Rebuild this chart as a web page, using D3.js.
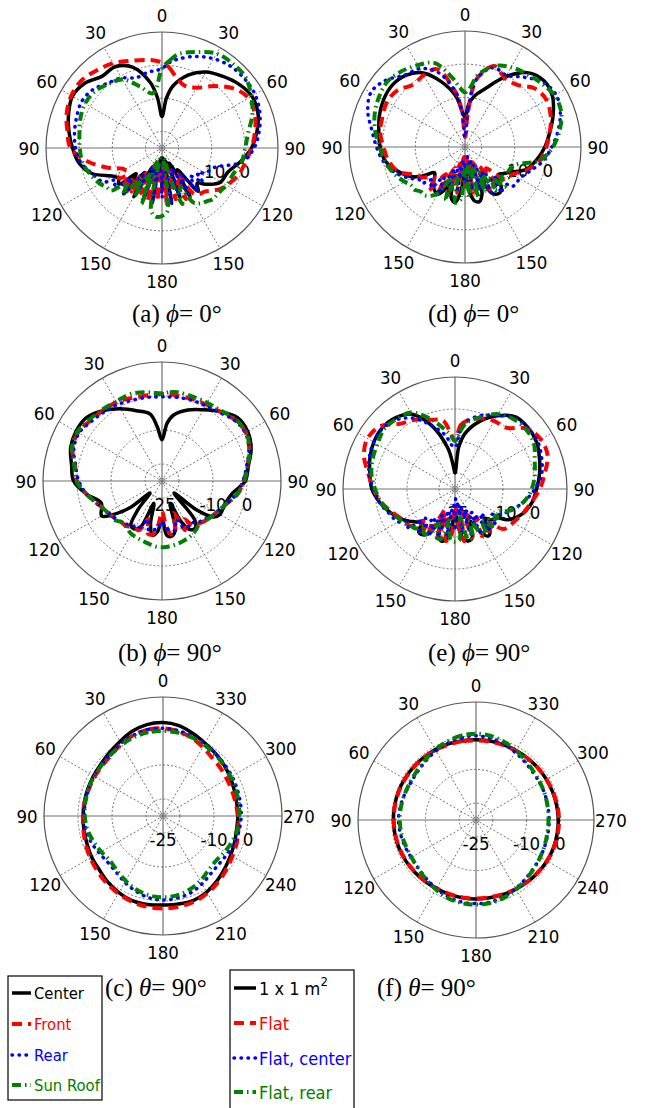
<!DOCTYPE html>
<meta charset="utf-8">
<script src="https://d3js.org/d3.v7.min.js"></script>
<style>
  body { margin: 0; background: #fff; }
</style>
<div id="my_dataviz"></div>
<script>

// angles of the elevation cuts (clockwise from top, deg)
var thetaDeg = [0,5,10,20,30,40,50,60,70,80,
                90,100,110,120,125,130,135,140,145,150,
                155,160,165,170,175,180,185,190,195,200,
                205,210,215,220,225,230,235,240,250,260,
                270,280,290,300,310,320,330,340,350,355];
// angles of the azimuth cuts (counter-clockwise from top, deg)
var phiDeg = [0,10,20,30,40,50,60,70,80,90,100,110,120,130,140,150,160,170,
              180,190,200,210,220,230,240,250,260,270,280,290,300,310,320,330,340,350];

var thetaTickLabels = ["0","30","60","90","120","150","180","150","120","90","60","30"];
var phiTickLabels = ["0","30","60","90","120","150","180","210","240","270","300","330"];
var radialTicks = [-25, -10, 0];
var ringValues = [-20, -10, 0];
var rDomain = [-25, 10];

// (a) phi = 0
var aCenter = [-15.5,-10,-6,-1.5,1.5,3.3,5.1,6.3,5.8,4.1,
  2,-1,-3.8,-4.5,-6,-8,-10,-8,-17,-8,
  -20,-9,-21,-8,-22,-12,-22,-8,-20,-9,
  -19,-8,-16,-7,-14,-8,-9,-8,-2.5,0.5,
  2,3.5,5,6.2,5.4,3.2,3.3,1,-5,-10];
var aFront = [0.8,-0.6,-2.7,-5,-4,-0.6,3,5.2,4.8,3.5,
  2,0.5,-0.6,-2.5,-3.5,-5,-6.5,-7,-8,-16,
  -8,-18,-9,-20,-8,-20,-9,-18,-8,-20,
  -10,-17,-9,-14,-8,-12,-9,-12,-7.6,-2.1,
  2.6,4,5.6,6.6,6.7,5.6,4.5,3,2,1.5];
var aRear = [-1,0.9,2.2,4.4,6.1,7.2,7.5,7.4,6.4,4.8,
  2.8,-0.5,-8,-10,-12,-9,-13,-8,-15,-9,
  -18,-10,-20,-8,-18,-10,-20,-9,-18,-8,
  -19,-9,-15,-7,-12,-6,-8,-4.5,-2.5,-0.1,
  1.1,1.8,2.4,3,2.3,0.5,-0.6,-2.4,-1.7,-1.6];
var aSunRoof = [-1,1.5,3.8,5.8,7.9,8.2,8,6.1,4,1.4,
  0.1,-0.6,-2.1,-2.5,-3,-3.2,-3.2,-4,-4.6,-6,
  -12,-7,-16,-22,-6,-4.5,-4.2,-6,-22,-7,
  -16,-8,-14,-7,-10,-5,-4.5,-3.4,-1.9,-0.6,
  -0.2,0.3,1.2,1.8,1.5,0.2,-1.1,-5.2,-8.3,-6.5];

// (b) phi = 90
var bCenter = [-12.9,-8,-5.3,-2.8,-0.8,1.7,4,4.1,2.9,0.8,
  -0.5,-4,-5.3,-5.3,-6.5,-12,-20,-10,-8,-8.5,
  -12,-18,-10,-8.5,-9,-14,-10,-8.8,-12,-18,
  -10,-8.8,-9,-14,-20,-13,-8,-4.5,-6,-2.5,
  1,2,3.6,4.2,4,2,-0.5,-3,-5,-9];
var bFront = [0.6,0.6,0.5,0.7,1,1.6,3,3.5,2.3,0.5,
  -1,-2.5,-5,-6.5,-7,-7.5,-8,-8.6,-9,-12,
  -9,-15,-10,-9,-12,-16,-12,-9,-9,-13,
  -9,-9,-8.5,-8,-8,-7.5,-7,-6.7,-5,-2.5,
  0,1,3,3.5,2.6,2,1.8,1,0.6,0.6];
var bRear = [-0.2,-0.2,0,0.3,0.6,1.3,2.8,3.3,2.2,0.3,
  -1.2,-2.8,-5,-6.5,-7,-8,-8.5,-9,-10,-9.5,
  -10,-13,-10,-10.4,-11,-13,-11,-10.4,-10,-13,
  -10,-9.5,-9,-8.5,-8,-7.5,-7,-6.5,-5,-2.5,
  -0.5,0.8,2.6,3.2,2.2,1.5,1,0.3,0,-0.2];
var bSunRoof = [0.8,1.2,1.5,1.4,1.6,2,3.2,3.6,2.4,0.6,
  -0.8,-2.5,-5,-6.5,-7,-7.5,-8,-8.2,-7.5,-7,
  -6.6,-6.3,-6,-5.8,-5.6,-5.5,-5.6,-6,-6.3,-6.6,
  -6.8,-7,-7.5,-8,-8,-7,-6.8,-6.5,-5,-2.5,
  0.2,1.2,3.2,3.8,3,2.4,2,2.2,1.5,1];

// (c) theta = 90
var cCenter = [2.5,2.3,1.5,0.3,-0.6,-1.2,-1.4,-1.5,-1.5,
  -1.5,-1.4,-1.2,-0.8,-0.5,0.3,1,1.5,1.4,
  1.2,1.3,1.4,0.8,-0.2,-1.2,-2,-2.6,-3,
  -3,-3,-2.7,-2.2,-1.6,-1,-0.3,0.8,2];
var cFront = [0.8,0.8,0.3,-0.5,-1.5,-1.8,-1.8,-1.8,-1.6,
  -1.5,-1.2,-0.8,-0.3,0.2,0.8,1.3,1.8,2.1,
  2.2,2.1,1.8,1.2,0.3,-0.6,-1.4,-1.9,-2.5,
  -3,-3.3,-3.4,-3.3,-3,-2.6,-1.6,-0.5,0.3];
var cRear = [0.8,0.8,0.3,-0.3,-1,-1.5,-1.6,-1.7,-1.8,
  -1.8,-2,-2.5,-3.3,-3.8,-3.5,-2.5,-1.5,-0.6,
  -0.3,-0.5,-1,-2,-3,-3.3,-3,-2.5,-2.2,
  -2,-1.9,-1.8,-1.6,-1.4,-1,-0.5,0,0.5];
var cSunRoof = [0,0,-0.3,-0.8,-1.3,-1.6,-1.6,-1.7,-1.8,
  -2,-2.4,-3.2,-4,-4.6,-4,-3,-2,-1.3,
  -1.1,-1.3,-2,-3,-4.2,-4.6,-4,-3.3,-2.8,
  -2.6,-2.4,-2.2,-2,-1.7,-1.3,-0.8,-0.4,-0.1];

// (d) phi = 0
var dSquare = [-16,-12,-9.5,-6,-0.5,4.3,6.1,5.5,3.3,1,
  -0.9,-3,-5.3,-9.7,-11,-12,-10,-8,-7.7,-9,
  -14,-10,-8,-8.5,-12,-18,-12,-8,-9,-14,
  -11,-8.5,-9,-10,-12,-13,-10,-7,-3.5,-0.6,
  0.6,1.4,2.5,3.4,3.8,3.1,0.9,-4,-9.5,-14];
var dFlat = [-22,-14,-4,1,-1,-0.5,2.5,3.4,2.5,1,
  -0.5,-2,-5,-8.5,-9,-10,-16,-9,-18,-10,
  -20,-12,-21,-11,-22,-13,-22,-11,-20,-10,
  -18,-9,-15,-8,-12,-11,-9,-8,-3.5,-1.5,
  -0.4,1,1.5,2.2,1.6,-0.5,0,0,-8,-14];
var dFlatCenter = [-22,-13,-4,0.5,0,2.5,5.5,6.7,5.6,3.5,
  1.2,-1,-4,-6,-6,-6.5,-12,-7,-16,-9,
  -19,-11,-22,-12,-20,-14,-21,-12,-19,-10,
  -17,-9,-14,-9,-11,-8,-8,-6,-2.5,0,
  1.7,3.5,6.2,7.8,6.3,3.3,2.3,-1,-8,-14];
var dFlatRear = [-8.5,-7,-3,1,2.8,3.8,5,6.2,5.9,4,
  1.5,-2,-9,-10,-9,-11,-8,-13,-9,-16,
  -10,-18,-9,-20,-10,-18,-9,-8,-16,-8,
  -14,-9,-7,-6,-6,-5,-5,-4,-2,-0.5,
  0.8,2.5,4,5,5.6,4.8,3.5,2,-4,-7];

// (e) phi = 90
var eSquare = [-20,-12,-7.5,-2.5,1.4,4.4,4.8,4.4,3.1,1.8,
  0.5,-0.6,-2.5,-5.8,-9.4,-10,-12,-8,-7,-10,
  -14,-9,-8.2,-9,-13,-18,-13,-9,-8.2,-10,
  -14,-9,-7.5,-7.4,-10,-9,-7.5,-6,-3.5,-1.1,
  1,2,3.3,4.3,4.7,4,2,-4,-12,-17];
var eFlat = [-10,-5,-3.3,-1.5,-0.5,0,4.4,6,5.8,3.5,
  1.5,-0.8,-2.5,-4,-4.5,-5.5,-10,-7,-14,-8,
  -16,-9,-18,-8.4,-14,-20,-10,-8.5,-16,-9,
  -18,-8.2,-12,-7.5,-11,-7,-6.5,-6,-4,-1.5,
  0.5,2.5,5.3,6.6,5.5,1.6,0,-2,-3.3,-7];
var eFlatCenter = [-12,-7,-3.5,-0.5,1.5,4,4.7,4.8,3.8,2.5,
  0,-3,-6,-9,-11,-8,-14,-8,-16,-9,
  -18,-10,-20,-11,-22,-12,-20,-10,-18,-9,
  -16,-8,-14,-7,-12,-6,-7,-4.5,-3,-1,
  0.5,2.2,3.5,4.3,4.5,3.3,0.5,-4,-8,-11];
var eFlatRear = [-10,-7,-4,-1,2,3.5,4,3.5,1.5,0.3,
  -1,-3,-6,-10,-9,-11,-8.5,-12,-8,-10,
  -14,-9,-8.4,-16,-9,-8.5,-9,-15,-9,-8.6,
  -13,-9,-8,-10,-7.5,-7,-6,-5.5,-3.5,-1.5,
  0,1.5,2.4,3,4,3.5,2.6,-1.5,-6,-8];

// (f) theta = 90
var fSquare = [-1.2,-1.1,-1,-0.9,-0.8,-0.7,-0.6,-0.5,-0.5,
  -0.5,-0.6,-0.7,-0.9,-1.1,-1.3,-1.5,-1.6,-1.6,
  -1.6,-1.6,-1.5,-1.3,-1.1,-0.9,-0.7,-0.6,-0.6,
  -0.6,-0.7,-0.8,-0.9,-1,-1.1,-1.2,-1.2,-1.2];
var fFlat = [-1.4,-1.3,-1.2,-1,-0.9,-0.8,-0.7,-0.6,-0.6,
  -0.6,-0.7,-0.8,-1,-1.2,-1.4,-1.6,-1.7,-1.7,
  -1.7,-1.7,-1.6,-1.4,-1.2,-1,-0.7,-0.5,-0.4,
  -0.4,-0.5,-0.7,-0.9,-1,-1.2,-1.3,-1.4,-1.4];
var fFlatCenter = [0,-0.2,-0.7,-1.3,-2,-2.5,-2.7,-2.5,-2.2,
  -2,-2.2,-2.5,-2.8,-2.7,-2.2,-1.5,-0.8,-0.3,
  -0.2,-0.3,-0.8,-1.5,-2.2,-2.7,-3,-3.2,-3.3,
  -3.3,-3.3,-3.2,-3.1,-3,-2.5,-1.8,-1,-0.4];
var fFlatRear = [0.6,0.4,-0.2,-0.9,-1.6,-2.2,-2.5,-2.5,-2.4,
  -2.4,-2.5,-2.8,-2.9,-2.6,-2,-1.2,-0.4,0,
  0.1,0,-0.5,-1.2,-2,-2.6,-3,-3.3,-3.5,
  -3.5,-3.4,-3.2,-3,-2.7,-2,-1.2,-0.4,0.3];

var leftNames = ["Center", "Front", "Rear", "Sun Roof"];
var rightNames = ["1 x 1 m", "Flat", "Flat, center", "Flat, rear"];

// line styles for the four series
var styles = [
  {color: "#000000", width: 3.5, dash: null,        cap: "butt"},
  {color: "#ff0000", width: 4,   dash: "10,6",      cap: "butt"},
  {color: "#0000ff", width: 3.5, dash: "0.5,6.5",   cap: "round"},
  {color: "#008000", width: 4,   dash: "9,4,1.5,4", cap: "butt"}
];

var panels = [
  {cx: 162, cy: 148, R: 116, mode: "theta", series: [aCenter, aFront, aRear, aSunRoof],
   cap: "(a) ", sym: "\u03D5", val: "= 0\u00B0", capX: 132, capY: 322},
  {cx: 465, cy: 147, R: 116, mode: "theta", series: [dSquare, dFlat, dFlatCenter, dFlatRear],
   cap: "(d) ", sym: "\u03D5", val: "= 0\u00B0", capX: 428, capY: 322},
  {cx: 162, cy: 481, R: 119, mode: "theta", series: [bCenter, bFront, bRear, bSunRoof],
   cap: "(b) ", sym: "\u03D5", val: "= 90\u00B0", capX: 118, capY: 661},
  {cx: 455, cy: 489, R: 112, mode: "theta", series: [eSquare, eFlat, eFlatCenter, eFlatRear],
   cap: "(e) ", sym: "\u03D5", val: "= 90\u00B0", capX: 428, capY: 661},
  {cx: 163, cy: 816, R: 119, mode: "phi", series: [cCenter, cFront, cRear, cSunRoof],
   cap: "(c) ", sym: "\u03B8", val: "= 90\u00B0", capX: 105, capY: 996},
  {cx: 476, cy: 820, R: 118, mode: "phi", series: [fSquare, fFlat, fFlatCenter, fFlatRear],
   cap: "(f) ", sym: "\u03B8", val: "= 90\u00B0", capX: 377, capY: 996}
];

var width = 648, height = 1108;
var tickFont = "'DejaVu Sans Condensed', 'DejaVu Sans', sans-serif";
var serif = "'Liberation Serif', 'Times New Roman', serif";

var svg = d3.select("#my_dataviz")
  .append("svg")
    .attr("width", width)
    .attr("height", height);

function drawPanel(p) {
  var g = svg.append("g")
    .attr("transform", "translate(" + p.cx + "," + p.cy + ")");

  var r = d3.scaleLinear().domain(rDomain).range([0, p.R]).clamp(true);
  var toRad = Math.PI / 180;

  // dotted rings
  g.selectAll("ring")
    .data(ringValues)
    .enter()
    .append("circle")
      .attr("r", function(d) { return r(d); })
      .attr("fill", "none")
      .attr("stroke", "#666")
      .attr("stroke-width", 0.9)
      .attr("stroke-dasharray", "2,2");

  // spokes, dotted except the two axes
  var spokes = d3.range(0, 360, 30);
  g.selectAll("spoke")
    .data(spokes.filter(function(a) { return a % 90 != 0; }))
    .enter()
    .append("line")
      .attr("x1", 0).attr("y1", 0)
      .attr("x2", function(a) { return p.R * Math.sin(a * toRad); })
      .attr("y2", function(a) { return -p.R * Math.cos(a * toRad); })
      .attr("stroke", "#666")
      .attr("stroke-width", 0.9)
      .attr("stroke-dasharray", "2,2");

  g.append("line").attr("x1", -p.R).attr("x2", p.R).attr("y1", 0).attr("y2", 0)
    .attr("stroke", "#707070").attr("stroke-width", 1.2);
  g.append("line").attr("x1", 0).attr("x2", 0).attr("y1", -p.R).attr("y2", p.R)
    .attr("stroke", "#707070").attr("stroke-width", 1.2);

  g.append("circle").attr("r", p.R)
    .attr("fill", "none").attr("stroke", "#555").attr("stroke-width", 1.2);

  // angle labels
  var labels = p.mode == "theta" ? thetaTickLabels : phiTickLabels;
  g.selectAll("angLabel")
    .data(spokes)
    .enter()
    .append("text")
      .attr("x", function(a) {
        var s = p.mode == "theta" ? a : -a;
        return (p.R + 17) * Math.sin(s * toRad);
      })
      .attr("y", function(a) {
        var s = p.mode == "theta" ? a : -a;
        return -(p.R + 17) * Math.cos(s * toRad);
      })
      .attr("text-anchor", "middle")
      .attr("dominant-baseline", "central")
      .style("font-family", tickFont)
      .style("font-size", "18.5px")
      .text(function(a, i) { return labels[i]; });

  // radial labels
  g.selectAll("radLabel")
    .data(radialTicks)
    .enter()
    .append("text")
      .attr("x", function(d) { return r(d); })
      .attr("y", 23)
      .attr("text-anchor", "middle")
      .attr("dominant-baseline", "central")
      .style("font-family", tickFont)
      .style("font-size", "18.5px")
      .text(function(d) { return d; });

  // the patterns
  var angles = p.mode == "theta" ? thetaDeg : phiDeg;
  var sign = p.mode == "theta" ? 1 : -1;
  var line = d3.lineRadial()
    .angle(function(d) { return sign * d[0] * toRad; })
    .radius(function(d) { return r(d[1]); })
    .curve(d3.curveCatmullRomClosed.alpha(0.5));

  p.series.forEach(function(vals, k) {
    var st = styles[k];
    g.append("path")
      .datum(angles.map(function(a, i) { return [a, vals[i]]; }))
      .attr("d", line)
      .attr("fill", "none")
      .attr("stroke", st.color)
      .attr("stroke-width", st.width)
      .attr("stroke-dasharray", st.dash)
      .attr("stroke-linecap", st.cap)
      .attr("stroke-linejoin", "round");
  });

  g.append("circle").attr("r", 3)
    .attr("fill", "none").attr("stroke", "#888").attr("stroke-width", 1);

  // caption
  var cap = svg.append("text")
    .attr("x", p.capX)
    .attr("y", p.capY)
    .style("font-family", serif)
    .style("font-size", "25px");
  cap.append("tspan").text(p.cap);
  cap.append("tspan").style("font-style", "italic").text(p.sym);
  cap.append("tspan").text(p.val);
}

panels.forEach(drawPanel);

// legends
function drawLegend(box, names, items, fontSize) {
  svg.append("rect")
    .attr("x", box.x).attr("y", box.y)
    .attr("width", box.w).attr("height", box.h)
    .attr("fill", "#fff").attr("stroke", "#000").attr("stroke-width", 1.2);

  names.forEach(function(name, k) {
    var st = styles[k];
    var y = items.y[k];
    svg.append("line")
      .attr("x1", items.x1).attr("x2", items.x2)
      .attr("y1", y).attr("y2", y)
      .attr("stroke", st.color)
      .attr("stroke-width", st.width)
      .attr("stroke-dasharray", st.dash)
      .attr("stroke-linecap", st.cap);
    var t = svg.append("text")
      .attr("x", items.tx)
      .attr("y", y)
      .attr("dominant-baseline", "central")
      .style("font-family", tickFont)
      .style("font-size", fontSize)
      .style("fill", st.color)
      .text(name);
    if (name == "1 x 1 m") {
      t.append("tspan").attr("dy", -7).style("font-size", "13px").text("2");
    }
  });
}

drawLegend({x: 8, y: 976, w: 94, h: 124}, leftNames,
  {x1: 12, x2: 31, tx: 34, y: [993, 1024, 1055, 1085]}, "16.5px");
drawLegend({x: 230, y: 970, w: 124, h: 150}, rightNames,
  {x1: 234, x2: 256, tx: 259, y: [988, 1023, 1058, 1092]}, "18px");

</script>
